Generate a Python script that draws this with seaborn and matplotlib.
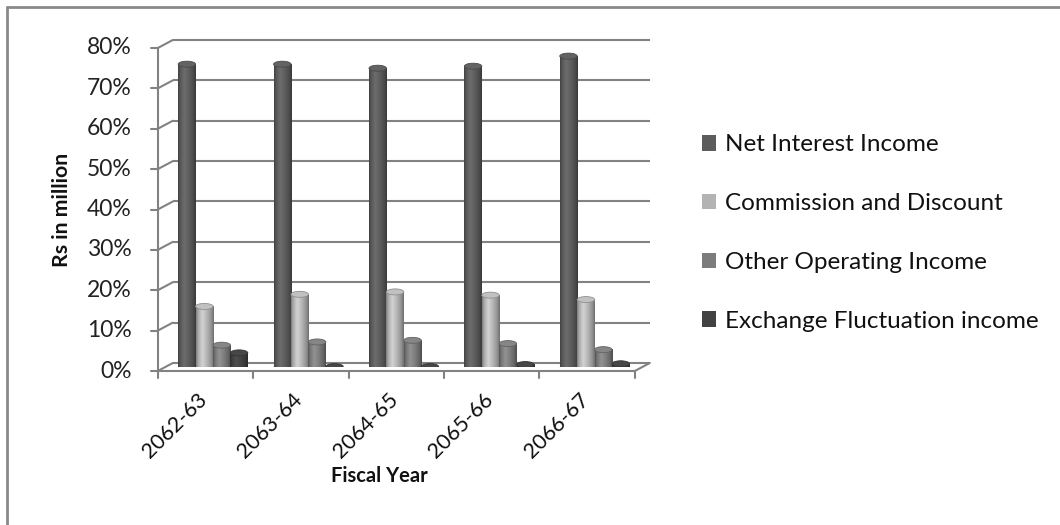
import numpy as np
import pandas as pd
import matplotlib
matplotlib.use("Agg")
import matplotlib.pyplot as plt
from matplotlib.patches import Ellipse, Patch
from matplotlib.lines import Line2D
import matplotlib.colors as mcolors
import seaborn as sns

# ---- data -------------------------------------------------------------
years = ["2062-63", "2063-64", "2064-65", "2065-66", "2066-67"]
series = ["Net Interest Income", "Commission and Discount",
          "Other Operating Income", "Exchange Fluctuation income"]
net_interest = [0.750, 0.750, 0.740, 0.745, 0.770]
commission = [0.150, 0.180, 0.186, 0.178, 0.167]
other_operating = [0.054, 0.062, 0.066, 0.058, 0.043]
exchange_fluct = [0.035, 0.001, 0.001, 0.006, 0.008]
y_ticks = [0.0, 0.1, 0.2, 0.3, 0.4, 0.5, 0.6, 0.7, 0.8]
y_tick_labels = ["0%", "10%", "20%", "30%", "40%", "50%", "60%", "70%", "80%"]

values = [net_interest, commission, other_operating, exchange_fluct]
colors = ["#5c5c5c", "#b3b3b3", "#7c7c7c", "#424242"]

df = pd.DataFrame({
    "Fiscal Year": np.tile(years, len(series)),
    "Series": np.repeat(series, len(years)),
    "Share": np.concatenate(values),
})

# ---- figure -----------------------------------------------------------
sns.set_style("white")
plt.rcParams["font.family"] = ["Lato", "DejaVu Sans"]
W, H = 1060, 525
fig = plt.figure(figsize=(W / 100, H / 100), dpi=100)
fig.patch.set_facecolor("white")

# plot plane sits halfway into the box depth
ax = fig.add_axes([165.3 / W, (H - 367) / H, 477 / W, 323 / H])
ax.set_facecolor("none")

sns.barplot(data=df, x="Fiscal Year", y="Share", hue="Series",
            hue_order=series, order=years, palette=colors,
            width=0.73, gap=0, saturation=1, legend=False,
            edgecolor="none", ax=ax, zorder=3)

ax.set_xlim(-0.5, 4.5)
ax.set_ylim(0, 0.8)
ax.set_axis_off()

# depth offsets (data units): half box depth
px_x = 477 / 5.0          # pixels per category
px_y = 323 / 0.8          # pixels per unit share
dx = 7.5 / px_x
dy = 4.0 / px_y
grid_c = "#828282"
lw = 1.5


def back(x, y):
    return x + dx, y + dy


def front(x, y):
    return x - dx, y - dy


# back wall gridlines and left wall diagonals
for yv, lab in zip(y_ticks, y_tick_labels):
    bx0, by = back(-0.5, yv)
    bx1, _ = back(4.5, yv)
    ax.plot([bx0, bx1], [by, by], color=grid_c, lw=lw, zorder=1,
            clip_on=False, solid_capstyle="butt")
    fx, fy = front(-0.5, yv)
    ax.plot([fx, bx0], [fy, by], color=grid_c, lw=lw, zorder=1,
            clip_on=False)
    # y tick
    ax.plot([fx - 7 / px_x, fx], [fy, fy], color=grid_c, lw=lw,
            zorder=1, clip_on=False)
    ax.text(fx - 26 / px_x, fy, lab, ha="right", va="center",
            fontsize=16.5, color="#222222")

# front vertical axis
fx, fy0 = front(-0.5, 0)
_, fy1 = front(-0.5, 0.8)
ax.plot([fx, fx], [fy0, fy1], color=grid_c, lw=lw, zorder=1, clip_on=False)

# floor front edge, right diagonal and category ticks
fx0, fy = front(-0.5, 0)
fx1, _ = front(4.5, 0)
ax.plot([fx0, fx1], [fy, fy], color=grid_c, lw=lw, zorder=1, clip_on=False)
bx1, by = back(4.5, 0)
ax.plot([fx1, bx1], [fy, by], color=grid_c, lw=lw, zorder=1, clip_on=False)
for b in np.arange(-0.5, 5.0, 1.0):
    tx, ty = front(b, 0)
    ax.plot([tx, tx], [ty, ty - 7 / px_y], color=grid_c, lw=lw, zorder=1,
            clip_on=False)

# category labels
for i, yr in enumerate(years):
    ax.text(i - 0.02, -22 / px_y, yr, rotation=45, ha="right", va="top",
            fontsize=15.5, color="#111111")

# ---- cylinder shading on every bar -----------------------------------
profile_t = np.array([0.0, 0.12, 0.35, 0.6, 0.85, 1.0])
profile_f = np.array([0.70, 0.95, 1.18, 1.02, 0.82, 0.62])
t = np.linspace(0, 1, 64)
f = np.interp(t, profile_t, profile_f)
cap_h = 6 / px_y

for patch in list(ax.patches):
    x0 = patch.get_x()
    w = patch.get_width()
    h = patch.get_height()
    base = np.array(mcolors.to_rgb(patch.get_facecolor()))
    img = np.clip(base[None, :] * f[:, None], 0, 1)[None, :, :]
    if h > 0.003:
        ax.imshow(img, extent=[x0, x0 + w, 0, h], aspect="auto",
                  interpolation="bilinear", zorder=4)
        # rounded foot
        ax.add_patch(Ellipse((x0 + w / 2, 0), w, cap_h,
                             facecolor=tuple(np.clip(base * 0.85, 0, 1)),
                             edgecolor="none", zorder=3.5))
    patch.set_alpha(0)
    top_col = tuple(np.clip(base * 1.08, 0, 1))
    ax.add_patch(Ellipse((x0 + w / 2, h), w, cap_h, facecolor=top_col,
                         edgecolor=tuple(np.clip(base * 0.8, 0, 1)),
                         lw=0.6, zorder=5))

ax.set_xlim(-0.5, 4.5)
ax.set_ylim(0, 0.8)

# ---- legend ------------------------------------------------------------
handles = [Patch(facecolor=c, edgecolor="none") for c in colors]
fig.legend(handles, series, loc="center left",
           bbox_to_anchor=(680 / W, 1 - 233 / H), frameon=False,
           fontsize=17.5, handlelength=0.6, handleheight=0.6,
           handletextpad=0.35, labelspacing=1.55, labelcolor="#111111")

# ---- axis titles ---------------------------------------------------------
fig.text(379 / W, 1 - 476 / H, "Fiscal Year", ha="center", va="center",
         fontsize=14.5, fontweight="bold", color="#111111")
fig.text(62 / W, 1 - 210 / H, "Rs in million", ha="center", va="center",
         rotation=90, fontsize=15.3, fontweight="bold", color="#111111")

# ---- chart-area border (left and top edges visible) --------------------
fig.add_artist(Line2D([7 / W, 7 / W], [0, 1 - 7 / H],
                      transform=fig.transFigure, color="#8a8a8a", lw=2))
fig.add_artist(Line2D([7 / W, 1], [1 - 7 / H, 1 - 7 / H],
                      transform=fig.transFigure, color="#8a8a8a", lw=2))

fig.savefig("out.png", dpi=100, facecolor="white")
